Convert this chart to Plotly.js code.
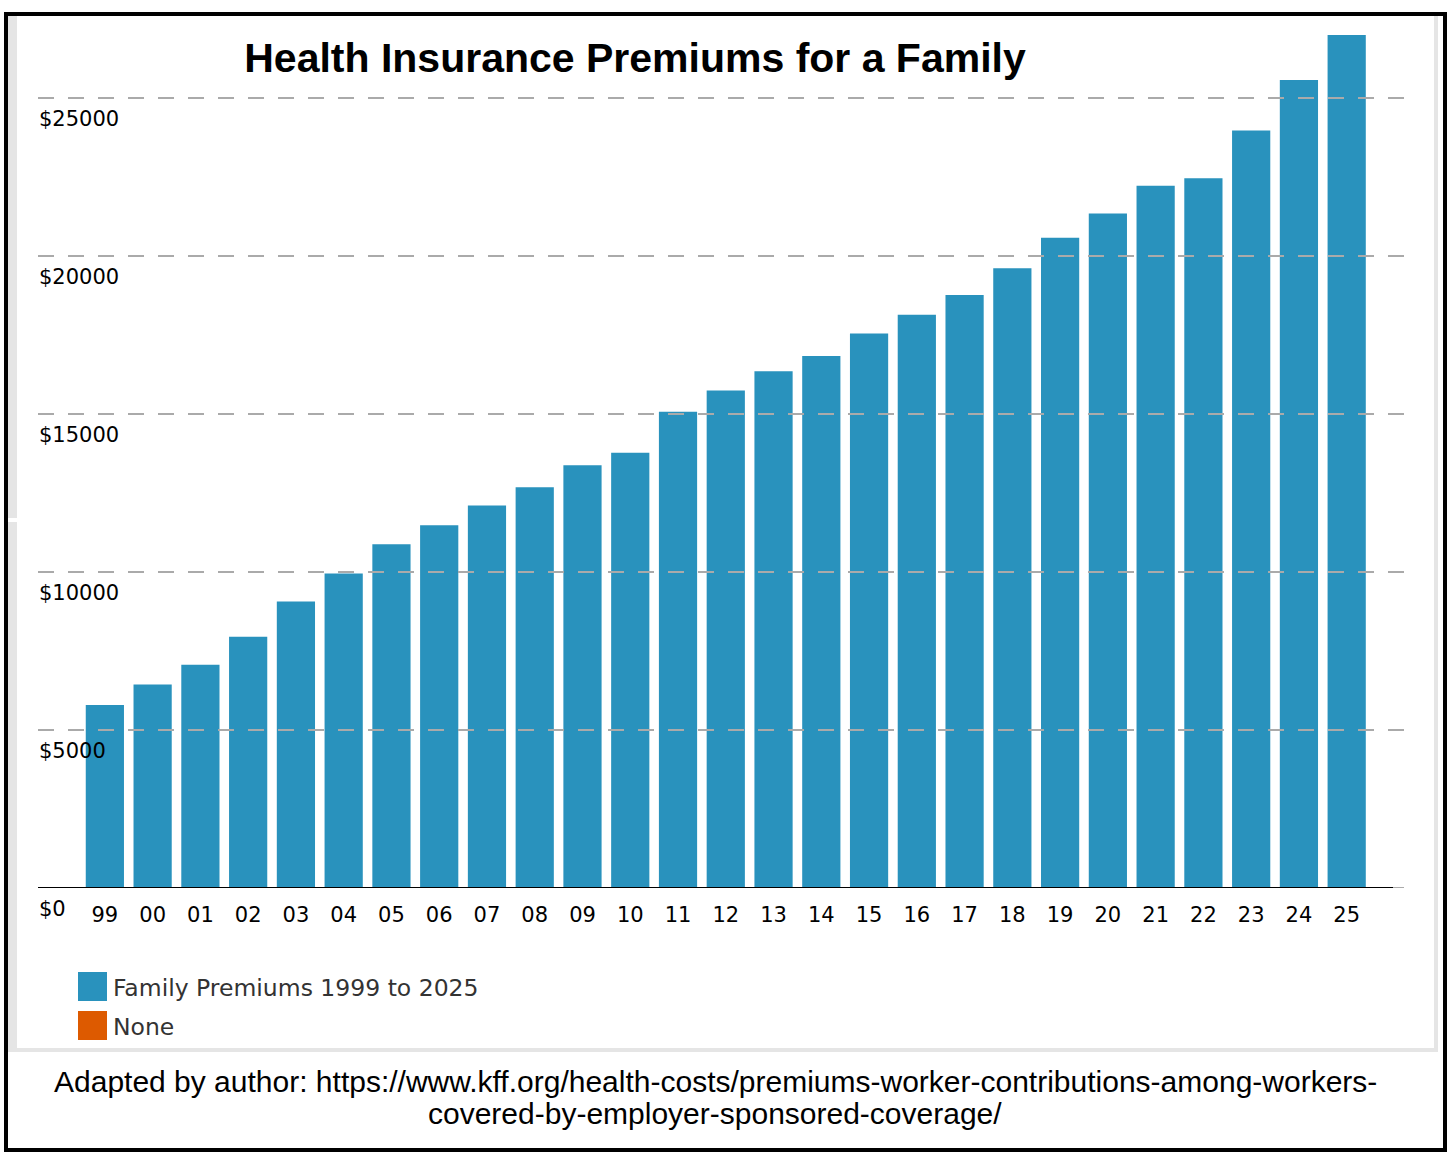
<!DOCTYPE html>
<html>
<head>
<meta charset="utf-8">
<script src="https://cdn.plot.ly/plotly-3.0.1.min.js"></script>
<style>
    body { margin: 0; background: #fff; }
    #frame { position: absolute; left: 4px; top: 12px; width: 1443px; height: 1140px; border: 4px solid #000; box-sizing: border-box; }
    #panel { position: absolute; left: 8px; top: 16px; width: 1430px; height: 1036px; box-sizing: border-box;
             border-left: 9px solid #e5e5e5; border-right: 4px solid #e5e5e5; border-bottom: 4px solid #e5e5e5; background: #fff; }
    #notch { position: absolute; left: 8px; top: 518px; width: 9px; height: 4px; background: #fff; }
    #chart { position: absolute; left: 0; top: 0; width: 1450px; height: 1162px; }
</style>
</head>
<body>
<div id="frame"></div>
<div id="panel"></div>
<div id="notch"></div>
<div id="chart"></div>
<script>
// Years (two digit labels)
var years = ['99', '00', '01', '02', '03', '04', '05', '06', '07', '08', '09', '10', '11', '12',
             '13', '14', '15', '16', '17', '18', '19', '20', '21', '22', '23', '24', '25'];

// Family premiums in dollars
var premiums = [5791, 6438, 7061, 7954, 9068, 9950, 10880, 11480, 12106, 12680, 13375, 13770, 15073, 15745,
                16351, 16834, 17545, 18142, 18764, 19616, 20576, 21342, 22221, 22463, 23968, 25572, 26993];

// Y axis ticks
var yTicks = [0, 5000, 10000, 15000, 20000, 25000];

// Legend entries
var seriesNames = ['Family Premiums 1999 to 2025', 'None'];
var seriesColors = ['#2992bd', '#dd5a00'];

var footerLines = ['Adapted by author: https://www.kff.org/health-costs/premiums-worker-contributions-among-workers-',
                   'covered-by-employer-sponsored-coverage/'];

// Plot area in page pixels
var PLOT_L = 38, PLOT_R = 1404, PLOT_T = 19, PLOT_B = 888;

// Page pixel -> paper coords
function px2x(px) { return (px - PLOT_L) / (PLOT_R - PLOT_L); }
function px2y(py) { return (PLOT_B - py) / (PLOT_B - PLOT_T); }


function drawChart() {

    var data = [{
        type: 'bar',
        x: years,
        y: premiums,
        name: seriesNames[0],
        marker: {color: seriesColors[0]},
        hoverinfo: 'x+y'
    }];

    // Dashed gridlines drawn above bars
    var shapes = yTicks.filter(v => v > 0).map(v => ({
        type: 'line', xref: 'paper', x0: 0, x1: 1, yref: 'y', y0: v, y1: v,
        line: {color: '#aaaaaa', width: 2, dash: '16px,14px'},
        layer: 'above'
    }));

    // Grey tail of the baseline
    shapes.push({
        type: 'line', xref: 'paper', x0: 0, x1: 1, yref: 'y', y0: 0, y1: 0,
        line: {color: '#aaaaaa', width: 2}, layer: 'below'
    });

    // Black baseline up to just past the last bar
    shapes.push({
        type: 'line', xref: 'paper', x0: 0, x1: px2x(1393), yref: 'y', y0: 0, y1: 0,
        line: {color: '#000', width: 2}, layer: 'above'
    });

    // Y tick labels sit under the gridlines
    var annotations = yTicks.map(v => ({
        text: '$' + v, xref: 'paper', x: 0, xanchor: 'left', xshift: -1,
        yref: 'y', y: v, yanchor: 'middle', yshift: -21,
        showarrow: false, font: {family: 'DejaVu Sans', size: 21, color: '#000'}
    }));

    // Legend (squares + labels)
    seriesNames.forEach(function (name, i) {
        var top = 972 + 39 * i;
        shapes.push({
            type: 'rect', xref: 'paper', yref: 'paper',
            x0: px2x(78), x1: px2x(107), y0: px2y(top + 29), y1: px2y(top),
            fillcolor: seriesColors[i], line: {width: 0}
        });
        annotations.push({
            text: name, xref: 'paper', yref: 'paper',
            x: px2x(111), xanchor: 'left', y: px2y(top + 16), yanchor: 'middle',
            showarrow: false, font: {family: 'DejaVu Sans', size: 23.5, color: '#333'}
        });
    });

    // Source footer
    footerLines.forEach(function (line, i) {
        annotations.push({
            text: line, xref: 'paper', yref: 'paper',
            x: px2x(715), xanchor: 'center', y: px2y(1081 + 32 * i), yanchor: 'middle',
            showarrow: false, font: {family: 'Liberation Sans, Arial', size: 30, color: '#000'}
        });
    });

    var layout = {
        width: 1450,
        height: 1162,
        margin: {l: PLOT_L, r: 1450 - PLOT_R, t: PLOT_T, b: 1162 - PLOT_B, pad: 0},
        paper_bgcolor: 'rgba(0,0,0,0)',
        plot_bgcolor: 'rgba(0,0,0,0)',
        title: {
            text: '<b>Health Insurance Premiums for a Family</b>',
            font: {family: 'Liberation Sans, Arial', size: 41, color: '#000'},
            xref: 'container', x: 635 / 1450, xanchor: 'center',
            yref: 'container', y: 1 - 58 / 1162, yanchor: 'middle'
        },
        bargap: 0.2,
        xaxis: {
            type: 'category',
            range: [-1.4, 27.2],
            showline: false,
            ticks: '', showgrid: false, zeroline: false,
            ticklabelstandoff: 12,
            tickfont: {family: 'DejaVu Sans', size: 21, color: '#000'},
            fixedrange: true
        },
        yaxis: {
            range: [0, 27500],
            showticklabels: false,
            showgrid: false, zeroline: false, ticks: '',
            fixedrange: true
        },
        showlegend: false,
        shapes: shapes,
        annotations: annotations
    };

    Plotly.newPlot('chart', data, layout, {displayModeBar: false});
}

drawChart();
</script>
</body>
</html>
